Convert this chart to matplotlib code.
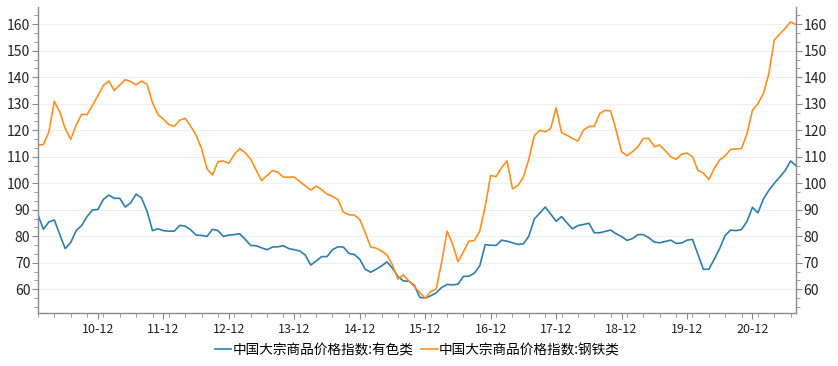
import matplotlib
matplotlib.use("Agg")
import matplotlib.pyplot as plt
from matplotlib.ticker import MultipleLocator, AutoMinorLocator

plt.rcParams['font.family'] = ['Noto Sans CJK SC', 'DejaVu Sans']

# monthly data, Jan 2010 .. Aug 2021
nonferrous = [
    88.1, 82.6, 85.4, 86.1, 80.6, 75.3, 77.6, 82.1, 84.0, 87.4, 89.9, 90.1,
    93.9, 95.5, 94.3, 94.3, 91.0, 92.6, 95.9, 94.4, 89.4, 82.1, 82.8, 82.1,
    81.9, 81.9, 84.1, 83.8, 82.4, 80.4, 80.3, 79.9, 82.6, 82.1, 79.9, 80.4,
    80.6, 80.9, 78.8, 76.5, 76.4, 75.6, 74.9, 75.9, 76.0, 76.4, 75.3, 74.9,
    74.4, 72.9, 69.1, 70.6, 72.3, 72.3, 74.9, 76.0, 75.9, 73.5, 73.1, 71.3,
    67.5, 66.4, 67.5, 68.8, 70.3, 67.9, 64.8, 63.1, 63.0, 61.5, 56.9, 56.6,
    57.5, 58.6, 60.6, 61.8, 61.6, 61.9, 64.8, 64.9, 66.0, 68.8, 76.8, 76.6,
    76.5, 78.5, 78.1, 77.5, 76.9, 77.1, 80.0, 86.5, 88.7, 91.0, 88.4, 85.6,
    87.4, 85.0, 82.8, 84.0, 84.4, 84.9, 81.3, 81.3, 81.8, 82.3, 80.9, 79.9,
    78.4, 79.1, 80.6, 80.6, 79.4, 77.8, 77.5, 78.0, 78.5, 77.3, 77.4, 78.5,
    78.8, 73.1, 67.5, 67.5, 71.3, 75.4, 80.3, 82.3, 82.1, 82.5, 85.6, 90.9,
    88.8, 94.0, 97.3, 100.0, 102.3, 104.8, 108.4, 106.6,
]
steel = [
    114.4, 114.6, 119.4, 130.9, 126.9, 120.6, 116.6, 121.9, 126.0, 125.9, 129.4, 133.1,
    136.9, 138.6, 135.0, 137.1, 139.1, 138.4, 137.1, 138.6, 137.3, 130.4, 125.9, 124.2,
    122.1, 121.5, 123.8, 124.5, 121.5, 118.1, 113.1, 105.4, 103.1, 108.1, 108.4, 107.5,
    110.9, 113.1, 111.5, 109.1, 105.0, 101.0, 102.9, 104.8, 104.1, 102.3, 102.3, 102.3,
    100.6, 99.0, 97.4, 98.9, 97.6, 95.9, 95.0, 93.8, 89.1, 88.1, 88.0, 86.3,
    81.3, 75.9, 75.5, 74.4, 72.9, 69.1, 63.8, 65.4, 63.1, 61.0, 58.8, 56.5,
    59.1, 60.0, 70.0, 81.9, 77.1, 70.4, 74.1, 78.1, 78.3, 81.9, 91.3, 102.9,
    102.5, 105.9, 108.4, 97.9, 99.1, 102.3, 109.1, 117.9, 120.0, 119.4, 120.6, 128.5,
    119.1, 118.1, 116.9, 115.9, 120.0, 121.4, 121.5, 126.3, 127.5, 127.3, 120.0, 111.9,
    110.4, 111.9, 113.8, 116.9, 116.9, 113.8, 114.4, 112.3, 110.0, 109.0, 110.9, 111.4,
    110.0, 104.8, 103.8, 101.4, 105.6, 108.8, 110.3, 112.8, 112.9, 113.1, 118.8, 127.5,
    130.0, 133.8, 141.3, 154.1, 156.3, 158.5, 160.9, 159.8,
]
series_names = ['中国大宗商品价格指数:有色类', '中国大宗商品价格指数:钢铁类']
x_tick_labels = ['10-12', '11-12', '12-12', '13-12', '14-12', '15-12',
                 '16-12', '17-12', '18-12', '19-12', '20-12']
y_ticks = [60, 70, 80, 90, 100, 110, 120, 130, 140, 150, 160]

months = list(range(len(steel)))
x_tick_pos = [11 + 12 * k for k in range(len(x_tick_labels))]

fig = plt.figure(figsize=(8.38, 3.66), dpi=100)
ax = fig.add_axes([0.0453, 0.1448, 0.9047, 0.8352])

blue = '#2d7db0'
orange = '#ff8f20'
ax.plot(months, nonferrous, color=blue, lw=1.2, label=series_names[0])
ax.plot(months, steel, color=orange, lw=1.2, label=series_names[1])

ax.set_xlim(0, len(steel) - 1)
ax.set_ylim(51.0, 166.4)

ax.set_yticks(y_ticks)
ax.yaxis.set_minor_locator(AutoMinorLocator(3))
ax.set_xticks(x_tick_pos)
ax.set_xticklabels(x_tick_labels)
ax.xaxis.set_minor_locator(MultipleLocator(3))

ax.grid(axis='y', which='major', color='#efefef', lw=0.8)
ax.set_axisbelow(True)

spine_col = '#8a8a8a'
for s in ['left', 'bottom', 'right']:
    ax.spines[s].set_color(spine_col)
    ax.spines[s].set_linewidth(1.0)
ax.spines['top'].set_visible(False)

ax.tick_params(axis='y', which='both', left=True, right=True, labelleft=True,
               labelright=True, color=spine_col, labelsize=10, labelcolor='#222222',
               pad=1.5)
ax.tick_params(axis='y', which='major', length=4)
ax.tick_params(axis='y', which='minor', length=3)
ax.tick_params(axis='x', which='both', color=spine_col, labelsize=9,
               labelcolor='#222222', pad=3)
ax.tick_params(axis='x', which='major', length=4)
ax.tick_params(axis='x', which='minor', length=3)

ax.legend(loc='center', bbox_to_anchor=(0.498, 0.043), bbox_transform=fig.transFigure,
          ncol=2, frameon=False, fontsize=9.8, handlelength=1.2, handletextpad=0.1,
          columnspacing=0.6)

fig.savefig('out.png', dpi=100)
